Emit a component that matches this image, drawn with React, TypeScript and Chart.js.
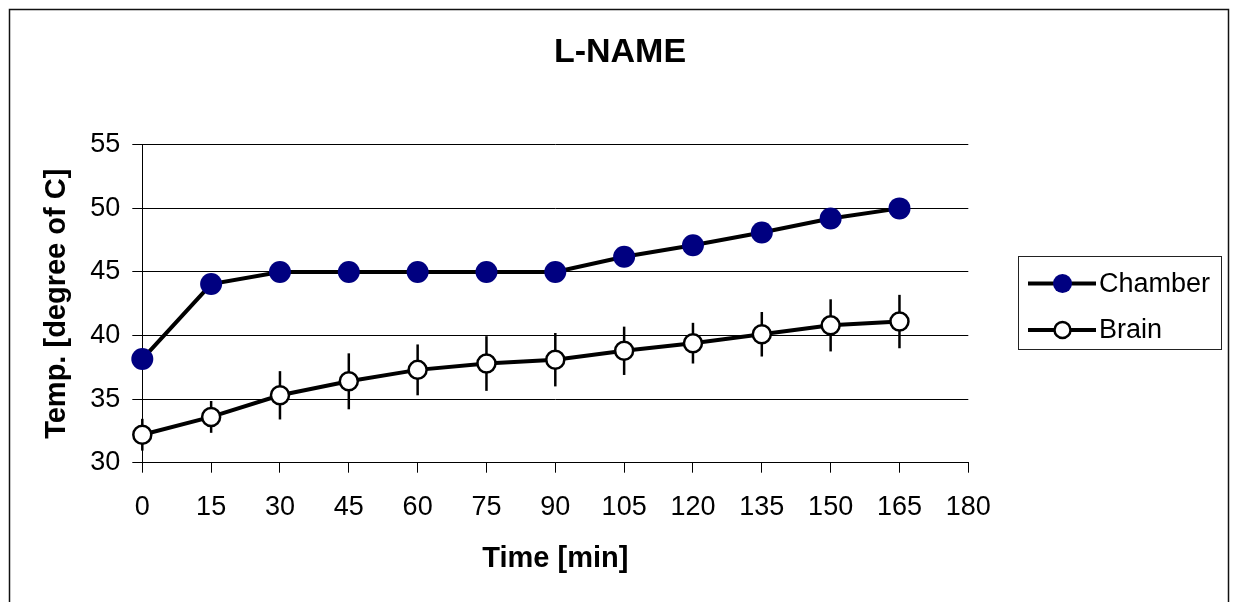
import React, { useEffect, useRef } from "react";
import { Chart, registerables } from "chart.js";

Chart.register(...registerables);

const TITLE = "L-NAME";
const X_TITLE = "Time [min]";
const Y_TITLE = "Temp. [degree of C]";
const TIMES = [0, 15, 30, 45, 60, 75, 90, 105, 120, 135, 150, 165];
const CHAMBER = [38.15, 44.05, 45, 45, 45, 45, 45, 46.2, 47.1, 48.1, 49.2, 50];
const BRAIN = [32.2, 33.6, 35.3, 36.4, 37.3, 37.8, 38.1, 38.8, 39.4, 40.1, 40.8, 41.1];
const BRAIN_ERR = [1.25, 1.25, 1.9, 2.2, 2.0, 2.15, 2.1, 1.9, 1.6, 1.75, 2.05, 2.1];
const X_MIN = 0;
const X_MAX = 180;
const X_STEP = 15;
const Y_MIN = 30;
const Y_MAX = 55;
const Y_STEP = 5;

const FONT = "'Liberation Sans', Arial, Helvetica, sans-serif";

const errorBarPlugin = {
  id: "errorBars",
  beforeDatasetsDraw(chart: any) {
    const { ctx, scales } = chart;
    const xs = scales.x;
    const ys = scales.y;
    ctx.save();
    ctx.strokeStyle = "#000";
    ctx.lineWidth = 2.5;
    TIMES.forEach((t, i) => {
      const x = xs.getPixelForValue(t);
      const y1 = ys.getPixelForValue(BRAIN[i] + BRAIN_ERR[i]);
      const y2 = ys.getPixelForValue(BRAIN[i] - BRAIN_ERR[i]);
      ctx.beginPath();
      ctx.moveTo(x, y1);
      ctx.lineTo(x, y2);
      ctx.stroke();
    });
    ctx.restore();
  },
};

const framePlugin = {
  id: "frameLegend",
  afterDraw(chart: any) {
    const { ctx } = chart;
    ctx.save();
    // outer frame
    ctx.strokeStyle = "#111";
    ctx.lineWidth = 1.5;
    ctx.strokeRect(9.5, 9.5, 1219, 1000);
    // legend box
    ctx.lineWidth = 1;
    ctx.strokeStyle = "#222";
    ctx.strokeRect(1018.5, 256.5, 203, 93);
    const rows = [283.5, 330];
    chart.data.datasets.forEach((ds: any, i: number) => {
      const y = rows[i];
      ctx.strokeStyle = ds.borderColor;
      ctx.lineWidth = ds.borderWidth;
      ctx.beginPath();
      ctx.moveTo(1028, y);
      ctx.lineTo(1096, y);
      ctx.stroke();
      ctx.beginPath();
      ctx.arc(1062.5, y, ds.legendRadius, 0, Math.PI * 2);
      ctx.fillStyle = ds.pointBackgroundColor;
      ctx.fill();
      if (ds.pointBorderWidth > 0) {
        ctx.strokeStyle = ds.pointBorderColor;
        ctx.lineWidth = ds.pointBorderWidth;
        ctx.stroke();
      }
      ctx.fillStyle = "#000";
      ctx.font = `27px ${FONT}`;
      ctx.textAlign = "left";
      ctx.textBaseline = "middle";
      ctx.fillText(ds.label, 1099, y + 1);
    });
    ctx.restore();
  },
};

export default function App() {
  const ref = useRef<HTMLCanvasElement | null>(null);

  useEffect(() => {
    if (!ref.current) return;
    const chart = new Chart(ref.current, {
      type: "line",
      data: {
        datasets: [
          {
            label: "Chamber",
            data: TIMES.map((t, i) => ({ x: t, y: CHAMBER[i] })),
            borderColor: "#000",
            borderWidth: 4,
            pointBackgroundColor: "#000080",
            pointBorderColor: "#000080",
            pointBorderWidth: 0,
            pointRadius: 11,
            pointHoverRadius: 11,
            legendRadius: 9.5,
            clip: false,
            tension: 0,
          } as any,
          {
            label: "Brain",
            data: TIMES.map((t, i) => ({ x: t, y: BRAIN[i] })),
            borderColor: "#000",
            borderWidth: 4,
            pointBackgroundColor: "#fff",
            pointBorderColor: "#000",
            pointBorderWidth: 2.5,
            pointRadius: 9,
            pointHoverRadius: 9,
            legendRadius: 8,
            clip: false,
            tension: 0,
          } as any,
        ],
      },
      options: {
        animation: false,
        responsive: false,
        devicePixelRatio: 1,
        events: [],
        layout: { padding: { top: 10, left: 10, right: 5, bottom: 20 } },
        plugins: {
          legend: { display: false },
          tooltip: { enabled: false },
          title: {
            display: true,
            text: TITLE,
            color: "#000",
            font: { family: FONT, size: 34, weight: "bold", lineHeight: 1.2 },
            padding: { top: 22, bottom: 72 },
          },
        },
        scales: {
          x: {
            type: "linear",
            min: X_MIN,
            max: X_MAX,
            afterFit: (s: any) => {
              s.height = 119.3;
            },
            ticks: {
              stepSize: X_STEP,
              color: "#000",
              font: { family: FONT, size: 27, lineHeight: 1.2 },
              padding: 19,
              maxRotation: 0,
              autoSkip: false,
            },
            grid: {
              display: true,
              drawOnChartArea: false,
              drawTicks: true,
              tickLength: 10,
              color: "#000",
              lineWidth: 1,
            },
            border: { display: true, color: "#000", width: 1 },
            title: {
              display: true,
              text: X_TITLE,
              color: "#000",
              font: { family: FONT, size: 29, weight: "bold", lineHeight: 1.2 },
              padding: { top: 0, bottom: 6 },
            },
          },
          y: {
            type: "linear",
            min: Y_MIN,
            max: Y_MAX,
            afterFit: (s: any) => {
              s.width = 132.3;
            },
            ticks: {
              stepSize: Y_STEP,
              color: "#000",
              font: { family: FONT, size: 27, lineHeight: 1.2 },
              padding: 12,
            },
            grid: {
              display: true,
              drawTicks: true,
              tickLength: 10,
              color: "#000",
              lineWidth: 1,
            },
            border: { display: true, color: "#000", width: 1 },
            title: {
              display: true,
              text: Y_TITLE,
              color: "#000",
              font: { family: FONT, size: 29, weight: "bold", lineHeight: 1.2 },
              padding: { top: 29.3, bottom: 0 },
            },
          },
          spacer: {
            type: "linear",
            position: "right",
            display: true,
            afterFit: (s: any) => {
              s.width = 261.7;
            },
            ticks: { display: false },
            grid: { display: false, drawTicks: false },
            border: { display: false },
          },
        },
      } as any,
      plugins: [errorBarPlugin, framePlugin],
    });
    return () => chart.destroy();
  }, []);

  return (
    <div style={{ position: "absolute", left: 0, top: 0, width: 1235, height: 602, background: "#fff" }}>
      <canvas ref={ref} width={1235} height={602} style={{ width: 1235, height: 602, display: "block" }} />
    </div>
  );
}
